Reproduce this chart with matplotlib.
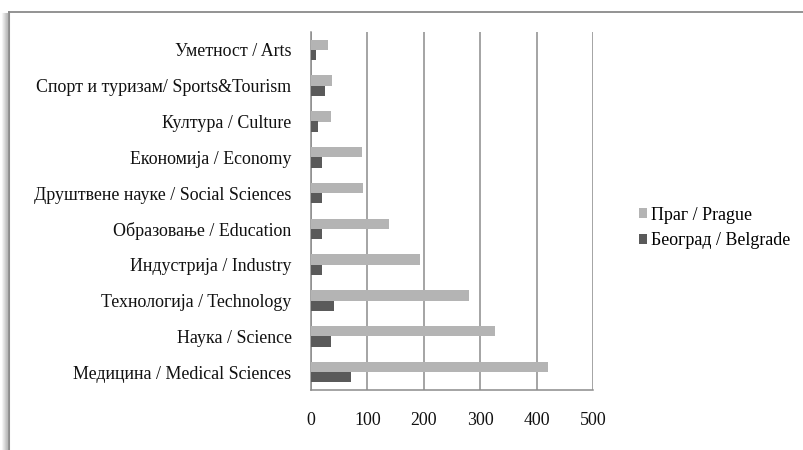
import matplotlib.pyplot as plt
from matplotlib.lines import Line2D
import numpy as np

# Categories, bottom to top as in the chart
categories = [
    'Медицина / Medical Sciences',
    'Наука / Science',
    'Технологија / Technology',
    'Индустрија / Industry',
    'Образовање / Education',
    'Друштвене науке / Social Sciences',
    'Економија / Economy',
    'Култура / Culture',
    'Спорт и туризам/ Sports&Tourism',
    'Уметност / Arts',
]
prague = [420, 326, 280, 194, 138, 93, 90, 36, 38, 30]
belgrade = [71, 36, 41, 20, 20, 20, 20, 12, 25, 9]
x_ticks = [0, 100, 200, 300, 400, 500]

plt.rcParams['font.family'] = ['Liberation Serif', 'DejaVu Serif']
plt.rcParams['font.size'] = 12.9

fig = plt.figure(figsize=(8.04, 4.5), dpi=100)
ax = fig.add_axes([311 / 804, 1 - 390 / 450, 282 / 804, 358 / 450])

y = np.arange(len(categories))
h = 0.29
ax.barh(y + h / 2, prague, height=h, color='#b4b4b4', label='Праг / Prague', zorder=3)
ax.barh(y - h / 2, belgrade, height=h, color='#5a5a5a', label='Београд / Belgrade', zorder=3)

ax.set_xlim(0, 500)
ax.set_ylim(-0.5, len(categories) - 0.5)
ax.set_xticks(x_ticks)
ax.set_yticks(y)
ax.set_yticklabels(categories)
ax.tick_params(axis='both', length=0, colors='#111111')
ax.tick_params(axis='x', pad=16)
ax.tick_params(axis='y', pad=14)
ax.grid(axis='x', color='#8c8c8c', linewidth=1.1, zorder=0)
for side in ['top', 'right']:
    ax.spines[side].set_visible(False)
ax.spines['left'].set_color('#8c8c8c')
ax.spines['bottom'].set_color('#8c8c8c')
ax.spines['left'].set_linewidth(1.1)
ax.spines['bottom'].set_linewidth(1.1)

fig.legend(loc='center left', bbox_to_anchor=(632 / 804, 1 - 228 / 450),
           frameon=False, handlelength=0.45, handleheight=0.45,
           handletextpad=0.2, labelspacing=0.5, borderaxespad=0)

# chart frame with a soft shadow on the left
for i, a in enumerate(np.linspace(0.04, 0.3, 7)):
    xs = (2.5 + i) / 804
    fig.add_artist(Line2D([xs, xs], [0, 1 - 13 / 450], color='black', alpha=a,
                          linewidth=0.8, transform=fig.transFigure))
fig.add_artist(Line2D([9.5 / 804, 9.5 / 804], [0, 1 - 11.5 / 450], color='#8a8a8a',
                      linewidth=1.3, transform=fig.transFigure))
fig.add_artist(Line2D([9.5 / 804, 803 / 804], [1 - 11.5 / 450, 1 - 11.5 / 450],
                      color='#8a8a8a', linewidth=1.3, transform=fig.transFigure))

fig.savefig('out.png', dpi=100)
